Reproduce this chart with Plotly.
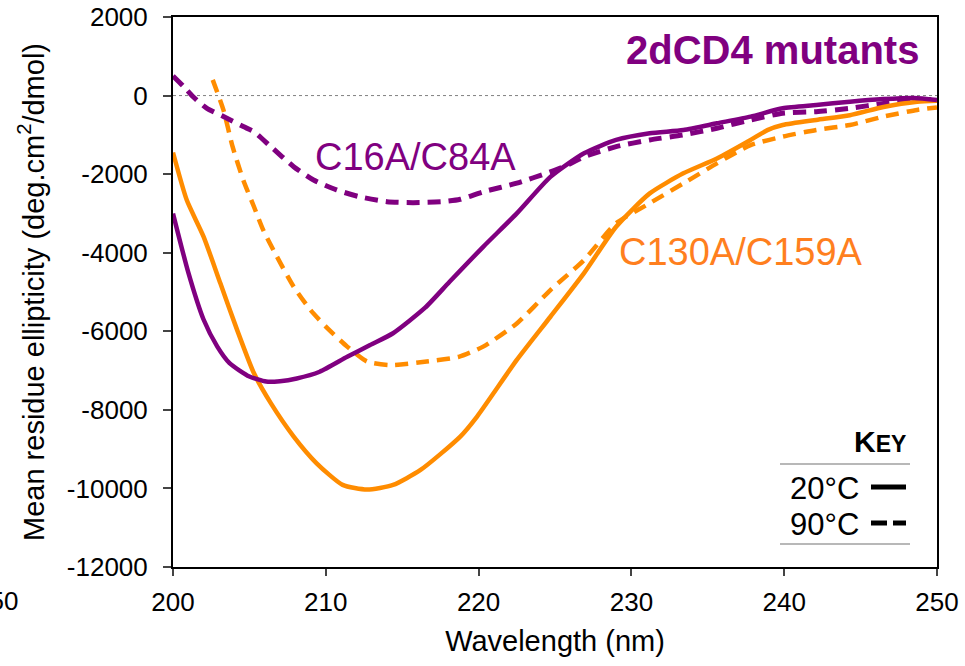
import plotly.graph_objects as go

# ---- data ----
wl_c16_20 = [200, 201, 202, 202.9, 203.7, 205, 206.1, 207, 208.1, 209.6, 211.4, 212.9, 214.4, 216.5,
             218.1, 220.3, 222.5, 224.7, 226.9, 229.0, 231.2, 233.4, 235.6, 237.8, 239.9, 242.1,
             244.3, 246.5, 248.5, 250]
mre_c16_20 = [-3000, -4500, -5700, -6390, -6810, -7150, -7280, -7270, -7200, -7030, -6650, -6350, -6050,
              -5400, -4740, -3850, -3000, -2070, -1470, -1130, -960, -876, -706, -536, -324, -240,
              -155, -90, -60, -110]

wl_c16_90 = [200, 200.7, 201.3, 202.2, 203.3, 204.6, 205.3, 206.4, 207.9, 209.2, 210.7, 212.2, 214.0,
             215.7, 217.7, 218.8, 220.3, 222.5, 224.7, 225.8, 226.9, 229.0, 231.2, 233.4, 235.6,
             237.8, 239.9, 242.1, 244.3, 246.5, 248.7, 250]
mre_c16_90 = [500, 230, -25, -320, -535, -790, -920, -1300, -1810, -2150, -2400, -2575, -2700,
              -2725, -2700, -2640, -2450, -2230, -1940, -1770, -1560, -1300, -1130, -1000, -830,
              -620, -450, -410, -325, -200, -110, -100]

wl_c130_20 = [200, 200.9, 202.0, 203.1, 204.2, 205.3, 206.4, 207.9, 209.4, 211.1, 212.7, 214.4,
              216.2, 218.8, 219.9, 222.5, 224.7, 226.9, 229.0, 231.2, 233.4, 235.6, 237.8, 238.9,
              239.9, 242.1, 244.3, 246.5, 248.7, 250]
mre_c130_20 = [-1450, -2660, -3590, -4780, -5970, -7070, -7830, -8680, -9360, -9910, -10030, -9910,
               -9530, -8680, -8170, -6730, -5630, -4520, -3340, -2490, -1980, -1600, -1130, -880,
               -750, -620, -500, -290, -155, -130]

wl_c130_90 = [202.6, 203.3, 203.9, 204.6, 205.3, 205.9, 206.8, 207.9, 209.0, 210.1, 211.4, 212.7,
              214.2, 216.6, 218.7, 220.3, 222.5, 224.7, 226.9, 229.0, 231.2, 233.4, 235.6, 237.8,
              239.9, 242.1, 244.3, 246.5, 248.7, 250]
mre_c130_90 = [400, -365, -1300, -2150, -2830, -3420, -4100, -4865, -5460, -5920, -6390, -6770,
               -6860, -6770, -6650, -6390, -5800, -4950, -4185, -3250, -2740, -2235, -1725, -1260,
               -1045, -875, -750, -535, -365, -300]

x_ticks = [200, 210, 220, 230, 240, 250]
x_ticktext = ["200", "210", "220", "230", "240", "250"]
y_ticks = [2000, 0, -2000, -4000, -6000, -8000, -10000, -12000]
y_ticktext = ["2000", "0", "-2000", "-4000", "-6000", "-8000", "-10000", "-12000"]

PURPLE = "#800080"
ORANGE = "#FF8C00"
FONT = "Liberation Sans, Arial, sans-serif"

fig = go.Figure()
def add(x, y, color, dash, width):
    fig.add_trace(go.Scatter(x=x, y=y, mode="lines",
                             line=dict(color=color, width=width, dash=dash, shape="spline", smoothing=0.6),
                             showlegend=False, hoverinfo="skip", cliponaxis=True))

add(wl_c130_90, mre_c130_90, ORANGE, "13px,8px", 4.5)
add(wl_c16_90, mre_c16_90, PURPLE, "13px,8px", 5)
add(wl_c130_20, mre_c130_20, ORANGE, "solid", 4.5)
add(wl_c16_20, mre_c16_20, PURPLE, "solid", 4.5)

# pixel helpers for layout items (plot area 173..937 x 17..567)
def px(xp): return (xp - 173) / 764
def py(yp): return (567 - yp) / 550

shapes = [
    dict(type="line", xref="paper", yref="y", x0=0, x1=1, y0=0, y1=0,
         line=dict(color="#808080", width=1, dash="dot"), layer="below"),
    dict(type="line", xref="paper", yref="paper", x0=px(780), x1=px(910), y0=py(464), y1=py(464),
         line=dict(color="#A0A0A0", width=1.5)),
    dict(type="line", xref="paper", yref="paper", x0=px(780), x1=px(910), y0=py(544), y1=py(544),
         line=dict(color="#A0A0A0", width=1.5)),
    dict(type="line", xref="paper", yref="paper", x0=px(871), x1=px(906), y0=py(487), y1=py(487),
         line=dict(color="black", width=5)),
    dict(type="line", xref="paper", yref="paper", x0=px(871), x1=px(887), y0=py(523), y1=py(523),
         line=dict(color="black", width=5)),
    dict(type="line", xref="paper", yref="paper", x0=px(893), x1=px(906), y0=py(523), y1=py(523),
         line=dict(color="black", width=5)),
]

annotations = [
    dict(text="<b>2dCD4 mutants</b>", xref="paper", yref="paper", x=px(921), y=py(50),
         xanchor="right", yanchor="middle", showarrow=False,
         font=dict(family=FONT, size=40, color=PURPLE)),
    dict(text="C16A/C84A", xref="paper", yref="paper", x=px(313), y=py(157),
         xanchor="left", yanchor="middle", showarrow=False,
         font=dict(family=FONT, size=38, color=PURPLE)),
    dict(text="C130A/C159A", xref="paper", yref="paper", x=px(617), y=py(252),
         xanchor="left", yanchor="middle", showarrow=False,
         font=dict(family=FONT, size=38, color="#FF7F1E")),
    dict(text="<b>K<span style='font-size:23px'>EY</span></b>", xref="paper", yref="paper",
         x=px(908), y=py(441), xanchor="right", yanchor="middle", showarrow=False,
         font=dict(family=FONT, size=30, color="black")),
    dict(text="20°C", xref="paper", yref="paper", x=px(861), y=py(488),
         xanchor="right", yanchor="middle", showarrow=False,
         font=dict(family=FONT, size=31, color="black")),
    dict(text="90°C", xref="paper", yref="paper", x=px(861), y=py(524),
         xanchor="right", yanchor="middle", showarrow=False,
         font=dict(family=FONT, size=31, color="black")),
    dict(text="150", xref="paper", yref="paper", x=px(20), y=py(601),
         xanchor="right", yanchor="middle", showarrow=False,
         font=dict(family=FONT, size=26, color="black")),
]

fig.update_layout(
    width=965, height=666,
    margin=dict(l=173, r=28, t=17, b=99),
    paper_bgcolor="white", plot_bgcolor="white",
    font=dict(family=FONT, size=26, color="black"),
    shapes=shapes, annotations=annotations,
    xaxis=dict(range=[200, 250], tickvals=x_ticks, ticktext=x_ticktext, ticks="outside",
               ticklen=7, tickwidth=1.5, ticklabelstandoff=4, automargin=False,
               showline=True, linecolor="black", linewidth=2, mirror=True, showgrid=False,
               zeroline=False, tickfont=dict(size=26),
               title=dict(text="Wavelength (nm)", font=dict(size=29), standoff=14)),
    yaxis=dict(range=[-12000, 2000], tickvals=y_ticks, ticktext=y_ticktext, ticks="outside",
               ticklen=8, tickwidth=1.5, ticklabelstandoff=10, automargin=False,
               showline=True, linecolor="black", linewidth=2, mirror=True, showgrid=False,
               zeroline=False, tickfont=dict(size=26),
               title=dict(text="Mean residue ellipticity (deg.cm<sup>2</sup>/dmol)",
                          font=dict(size=29), standoff=14)),
)

fig.write_html("out.html")
